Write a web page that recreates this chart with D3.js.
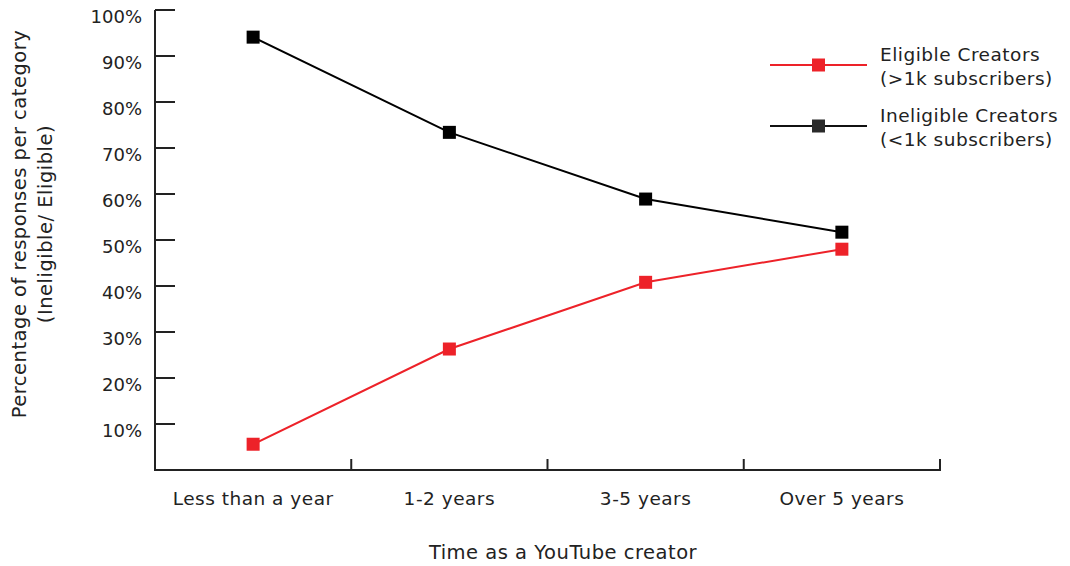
<!DOCTYPE html>
<html><head><meta charset="utf-8">
<script src="https://cdn.jsdelivr.net/npm/d3@7"></script>
<style>body{margin:0;background:#fff}svg{display:block}text{font-family:"DejaVu Sans",sans-serif;fill:#222}</style>
</head><body><svg id="c" width="1070" height="566"></svg>
<script>
const categories = ["Less than a year", "1-2 years", "3-5 years", "Over 5 years"];
const eligible = [5.6, 26.3, 40.8, 48.0];
const ineligible = [94.1, 73.4, 58.9, 51.7];
const yTicks = [10, 20, 30, 40, 50, 60, 70, 80, 90, 100];
const seriesNames = [["Eligible Creators", "(>1k subscribers)"], ["Ineligible Creators", "(<1k subscribers)"]];
const colors = ["#ed2229", "#000000"];

const svg = d3.select("#c");
const x = d3.scaleBand().domain(categories).range([155, 940]);
const y = d3.scaleLinear().domain([0, 100]).range([470, 10]);
const axisColor = "#222";
const fs = 18.5, ls = "0.5px";

// y axis
svg.append("line").attr("x1",155).attr("x2",155).attr("y1",y(100)).attr("y2",y(0)+1).attr("stroke",axisColor).attr("stroke-width",2);
yTicks.forEach(t=>{
  svg.append("line").attr("x1",155).attr("x2",175).attr("y1",y(t)).attr("y2",y(t)).attr("stroke",axisColor).attr("stroke-width",2);
  svg.append("text").attr("x",142).attr("y",y(t)+12.5).attr("text-anchor","end").attr("font-size",18).text(t+"%");
});
// x axis
svg.append("line").attr("x1",154).attr("x2",941).attr("y1",y(0)).attr("y2",y(0)).attr("stroke",axisColor).attr("stroke-width",2);
categories.forEach((c,i)=>{
  const xr = x(c)+x.bandwidth();
  svg.append("line").attr("x1",xr).attr("x2",xr).attr("y1",y(0)).attr("y2",y(0)-11).attr("stroke",axisColor).attr("stroke-width",2);
  svg.append("text").attr("x",x(c)+x.bandwidth()/2).attr("y",505).attr("text-anchor","middle").attr("font-size",fs).attr("letter-spacing",ls).text(c);
});
svg.append("text").attr("x",563).attr("y",559).attr("text-anchor","middle").attr("font-size",19.5).attr("letter-spacing",ls).text("Time as a YouTube creator");
const yt = svg.append("text").attr("transform","translate(0,224) rotate(-90)").attr("text-anchor","middle").attr("font-size",19.5).attr("letter-spacing",ls);
yt.append("tspan").attr("x",0).attr("y",26).text("Percentage of responses per category");
yt.append("tspan").attr("x",0).attr("y",52).text("(Ineligible/ Eligible)");

const line = d3.line().x((d,i)=>x(categories[i])+x.bandwidth()/2).y(d=>y(d));
[eligible, ineligible].forEach((s,k)=>{
  svg.append("path").attr("d",line(s)).attr("fill","none").attr("stroke",colors[k]).attr("stroke-width",2);
  svg.selectAll(null).data(s).enter().append("rect")
    .attr("x",(d,i)=>x(categories[i])+x.bandwidth()/2-6.5).attr("y",d=>y(d)-6.5)
    .attr("width",13).attr("height",13).attr("fill",colors[k]);
});

// legend
const legY = [65, 126];
const legColors = ["#ed2229", "#2a2a2a"];
seriesNames.forEach((n,k)=>{
  svg.append("line").attr("x1",770).attr("x2",867).attr("y1",legY[k]).attr("y2",legY[k]).attr("stroke",k?"#111":colors[0]).attr("stroke-width",2);
  svg.append("rect").attr("x",812).attr("y",legY[k]-6.5).attr("width",13).attr("height",13).attr("fill",legColors[k]);
  svg.append("text").attr("x",880).attr("y",legY[k]-4).attr("font-size",fs).attr("letter-spacing",ls).text(n[0]);
  svg.append("text").attr("x",880).attr("y",legY[k]+20).attr("font-size",fs).attr("letter-spacing",ls).text(n[1]);
});
</script></body></html>
